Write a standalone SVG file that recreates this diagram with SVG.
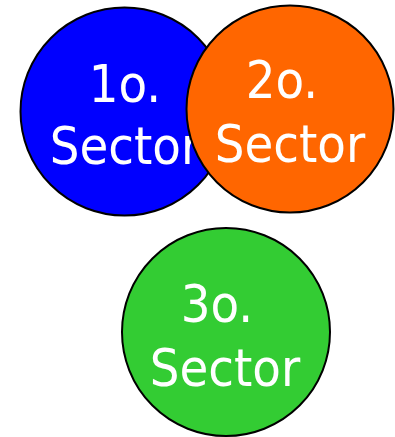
<svg xmlns="http://www.w3.org/2000/svg" width="395" height="437" viewBox="0 0 395 437">
<style>
.c{stroke:#000;stroke-width:2}
.t{fill:#fff;font-family:"DejaVu Sans Condensed","DejaVu Sans",sans-serif;font-stretch:condensed;font-size:52px;text-anchor:middle}
</style>
<rect width="395" height="437" fill="#fff"/>
<g id="sector1">
<circle class="c" cx="124.5" cy="111.5" r="104" fill="#0000FF"/>
<text class="t" x="125" y="101.5">1o.</text>
<text class="t" x="125" y="164">Sector</text>
</g>
<g id="sector2">
<circle class="c" cx="290" cy="109" r="103.5" fill="#FF6600"/>
<text class="t" x="282" y="98">2o.</text>
<text class="t" x="290" y="162">Sector</text>
</g>
<g id="sector3">
<circle class="c" cx="226" cy="332" r="104" fill="#33CC33"/>
<text class="t" x="217" y="321.5">3o.</text>
<text class="t" x="225" y="385.5">Sector</text>
</g>
<g id="connectors"/>
</svg>
